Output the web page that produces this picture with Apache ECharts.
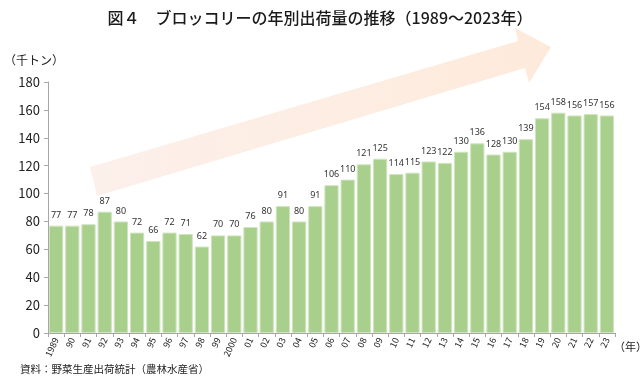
<!DOCTYPE html>
<html><head><meta charset="utf-8">
<script src="https://cdn.jsdelivr.net/npm/echarts@6/dist/echarts.min.js"></script>
<style>html,body{margin:0;padding:0;background:#fff}#c{width:640px;height:381px}</style>
</head><body><div id="c"></div>
<script>
const years = ['1989','90','91','92','93','94','95','96','97','98','99','2000','01','02','03','04','05','06','07','08','09','10','11','12','13','14','15','16','17','18','19','20','21','22','23'];
const shipments = [77,77,78,87,80,72,66,72,71,62,70,70,76,80,91,80,91,106,110,121,125,114,115,123,122,130,136,128,130,139,154,158,156,157,156];
const yTicks = [0,20,40,60,80,100,120,140,160,180];

const FONT = '"Noto Sans CJK JP", "Noto Sans", sans-serif';
const chart = echarts.init(document.getElementById('c'), null, {renderer: 'canvas'});
chart.setOption({
  animation: false,
  title: {
    text: '図４　ブロッコリーの年別出荷量の推移（1989～2023年）',
    left: 'center', top: 5,
    textStyle: {fontFamily: FONT, fontSize: 16, fontWeight: 500, color: '#1a1a1a'}
  },
  graphic: [
    {type: 'polygon', z: -10, silent: true,
     shape: {points: [[90,167],[518,41],[515,28],[551,47],[529,83],[525,68],[97,196]]},
     style: {fill: new echarts.graphic.LinearGradient(0,0,1,0,[{offset:0,color:'#fcf0eb'},{offset:1,color:'#feeadb'}])}},
    {type: 'text', left: 4, top: 54, style: {text: '（千トン）', font: '12px ' + FONT, fill: '#222'}},
    {type: 'text', left: 614, top: 341, style: {text: '（年）', font: '11px ' + FONT, fill: '#222'}},
    {type: 'text', left: 20, top: 364, style: {text: '資料：野菜生産出荷統計（農林水産省）', font: '10.5px ' + FONT, fill: '#222'}}
  ],
  grid: {left: 48, right: 25, top: 82, bottom: 48, containLabel: false},
  xAxis: {
    type: 'category', data: years,
    axisLine: {lineStyle: {color: '#a6a6a6'}},
    axisTick: {show: true, alignWithLabel: false, length: 4, lineStyle: {color: '#a6a6a6'}},
    axisLabel: {rotate: 65, fontSize: 9, color: '#222', fontFamily: FONT, margin: 5, interval: 0}
  },
  yAxis: {
    type: 'value', min: yTicks[0], max: yTicks[yTicks.length-1], interval: 20,
    splitLine: {show: false},
    axisLine: {show: true, lineStyle: {color: '#a6a6a6'}},
    axisTick: {show: true, length: 4, lineStyle: {color: '#a6a6a6'}},
    axisLabel: {fontSize: 13, color: '#222', fontFamily: FONT, margin: 8}
  },
  series: [{
    type: 'bar', data: shipments, barCategoryGap: '12%', z: 2,
    itemStyle: {color: '#a9cf8c', borderColor: '#cfe5bf', borderWidth: 1},
    label: {show: true, position: 'top', distance: 6, fontSize: 9, color: '#333', fontFamily: '"Noto Sans", sans-serif'}
  }]
});
</script></body></html>
